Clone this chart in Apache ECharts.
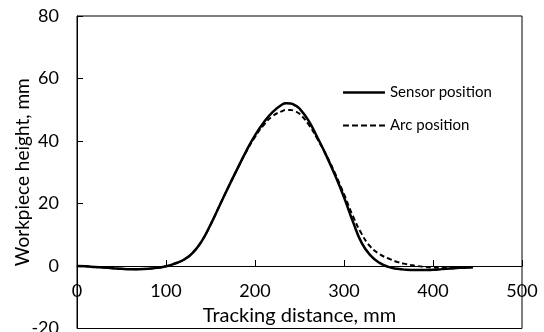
<!DOCTYPE html>
<html>
<head>
<meta charset="utf-8">
<script src="https://cdn.jsdelivr.net/npm/echarts@6/dist/echarts.min.js"></script>
<style>html,body{margin:0;padding:0;background:#fff}#c{width:544px;height:332px}</style>
</head>
<body>
<div id="c"></div>
<script>
const distance = [0,10,20,30,40,50,60,70,80,90,100,110,120,130,140,150,160,170,180,190,200,210,220,230,235,240,245,250,260,270,280,290,300,310,320,330,340,350,360,370,380,390,400,410,420,430,440,445];
const sensorPosition = [0,-0.1,-0.3,-0.5,-0.7,-0.9,-1.0,-1.0,-0.9,-0.6,-0.1,0.8,2.0,4.2,7.9,13.2,19.2,25.2,31.0,36.7,41.8,46.0,49.3,51.6,52.1,52.0,51.4,50.4,46.6,41.2,35.4,29.0,22.0,14.2,7.3,3.3,1.0,-0.3,-0.9,-1.2,-1.3,-1.3,-1.2,-1.0,-0.8,-0.6,-0.5,-0.4];
const arcPosition = [0,-0.1,-0.3,-0.5,-0.7,-0.9,-1.0,-1.0,-0.9,-0.6,-0.1,0.8,2.0,4.2,7.9,13.2,19.2,25.2,31.0,36.5,41.3,45.2,48.0,49.5,49.9,49.9,49.5,48.7,45.4,40.7,35.5,29.6,23.0,16.0,10.2,6.1,3.8,2.4,1.3,0.6,0.1,-0.3,-0.5,-0.6,-0.6,-0.5,-0.4,-0.4];
const xTicks = {min:0,max:500,interval:100};
const yTicks = {min:-20,max:80,interval:20};

const chartW = 544, chartH = 332;
const grid = {left:77,right:22,top:16,bottom:3.5};
const plotH = chartH - grid.top - grid.bottom;
// x axis sits on y = 0: shift it up from the grid bottom
const xAxisOffset = -plotH * (0 - yTicks.min) / (yTicks.max - yTicks.min);

const chart = echarts.init(document.getElementById('c'), null, {renderer:'canvas'});
const font = 'Lato';
const solidIcon = 'path://M0,0H42V2.5H0Z';
const dashIcon = 'path://M0,0H6V2H0Z M9,0H15V2H9Z M18,0H24V2H18Z M27,0H33V2H27Z M36,0H42V2H36Z';
chart.setOption({
  animation:false,
  textStyle:{fontFamily:font},
  grid:Object.assign({show:true,borderColor:'#000',borderWidth:1,containLabel:false,outerBoundsMode:'none'},grid),
  legend:{
    orient:'vertical',left:338,top:80,itemWidth:42,itemHeight:14,itemGap:18,
    textStyle:{fontFamily:font,fontSize:15,color:'#000'},
    data:[{name:'Sensor position',icon:solidIcon},{name:'Arc position',icon:dashIcon}]
  },
  xAxis:{
    type:'value',min:xTicks.min,max:xTicks.max,interval:xTicks.interval,
    offset:xAxisOffset,
    name:'Tracking distance, mm',nameLocation:'middle',nameGap:40,nameMoveOverlap:false,
    nameTextStyle:{fontFamily:font,fontSize:20,color:'#000'},
    axisLine:{show:true,onZero:false,lineStyle:{color:'#000',width:1}},
    axisTick:{show:true,inside:true,length:6,lineStyle:{color:'#000'}},
    axisLabel:{color:'#000',fontSize:18,fontFamily:font,margin:16},
    splitLine:{show:false}
  },
  yAxis:{
    type:'value',min:yTicks.min,max:yTicks.max,interval:yTicks.interval,
    name:'Workpiece height, mm',nameLocation:'middle',nameGap:45,nameMoveOverlap:false,
    nameTextStyle:{fontFamily:font,fontSize:19,color:'#000'},
    axisLine:{show:true,lineStyle:{color:'#000',width:1}},
    axisTick:{show:true,inside:true,length:6,lineStyle:{color:'#000'}},
    axisLabel:{color:'#000',fontSize:18,fontFamily:font,margin:18},
    splitLine:{show:false}
  },
  series:[
    {name:'Sensor position',type:'line',smooth:true,symbol:'none',
     data:distance.map((d,i)=>[d,sensorPosition[i]]),
     lineStyle:{color:'#000',width:2.5,type:'solid'},itemStyle:{color:'#000'}},
    {name:'Arc position',type:'line',smooth:true,symbol:'none',
     data:distance.map((d,i)=>[d,arcPosition[i]]),
     lineStyle:{color:'#000',width:2,type:[5,3]},itemStyle:{color:'#000'}}
  ]
});
</script>
</body>
</html>
